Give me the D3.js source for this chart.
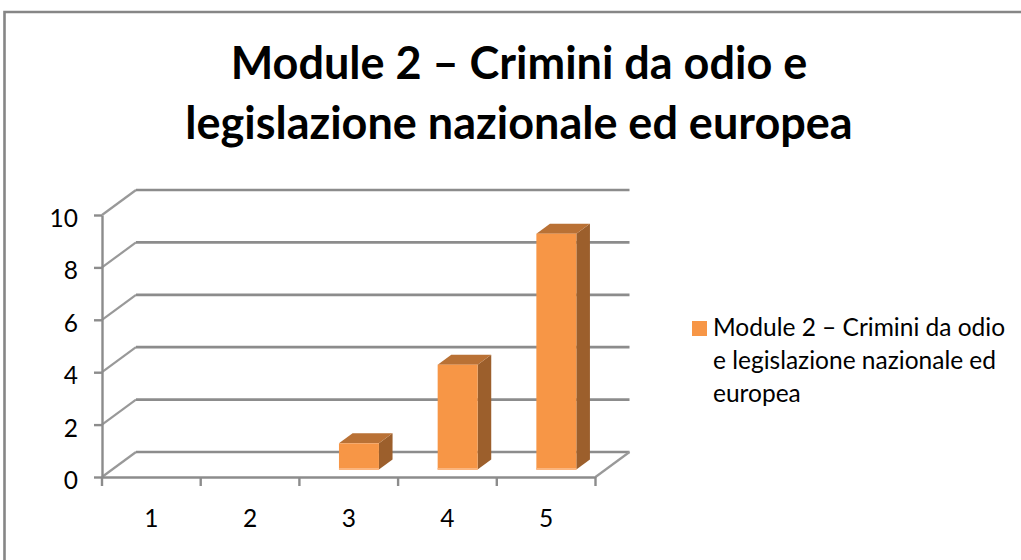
<!DOCTYPE html>
<html>
<head>
<meta charset="utf-8">
<script src="https://cdn.jsdelivr.net/npm/d3@7"></script>
<style>
  html, body { margin: 0; padding: 0; background: #fff; }
  svg { display: block; }
  text { font-family: Lato, "Open Sans", sans-serif; fill: #000; }
</style>
</head>
<body>
<div id="chart"></div>
<script>
const categories = ['1', '2', '3', '4', '5']
const values = [0, 0, 1, 4, 9]
const yTicks = [0, 2, 4, 6, 8, 10]
const titleLines = ['Module 2 – Crimini da odio e', 'legislazione nazionale ed europea']
const legendLines = ['Module 2 – Crimini da odio', 'e legislazione nazionale ed', 'europea']

const width = 1021, height = 560
const gridColor = '#8c8c8c'

const svg = d3.select('#chart').append('svg')
    .attr('width', width)
    .attr('height', height)

// outer frame, only top and left are in the crop
svg.append('path')
    .attr('d', 'M4.5,560V12H1021')
    .attr('fill', 'none')
    .attr('stroke', '#868686')
    .attr('stroke-width', 2.6)

// scales
const x = d3.scaleBand().domain(categories).range([102, 595.5])
const y = d3.scaleLinear().domain([0, 10]).range([477, 215])
// depth goes from the front plane (0) to the back wall (1)
const depthX = d3.scaleLinear().domain([0, 1]).range([0, 34])
const depthY = d3.scaleLinear().domain([0, 1]).range([0, -25])

const barWidth = x.bandwidth() * 0.405
const barLeft = d => x(d) + (x.bandwidth() - barWidth) / 2
const line = d3.line()

// gridlines: side wall + back wall
const grid = svg.append('g')
grid.selectAll('path.side')
    .data(yTicks)
    .enter()
    .append('path')
    .attr('class', 'side')
    .attr('d', d => line([
        [x.range()[0], y(d)],
        [x.range()[0] + depthX(1), y(d) + depthY(1)]
    ]))
    .attr('fill', 'none')
    .attr('stroke', '#999')
    .attr('stroke-width', 2.2)
grid.selectAll('path.back')
    .data(yTicks)
    .enter()
    .append('path')
    .attr('class', 'back')
    .attr('d', d => line([
        [x.range()[0] + depthX(1), y(d) + depthY(1)],
        [x.range()[1] + depthX(1), y(d) + depthY(1)]
    ]))
    .attr('fill', 'none')
    .attr('stroke', gridColor)
    .attr('stroke-width', 2.7)

// floor right edge
svg.append('path')
    .attr('d', line([
        [x.range()[1], y(0)],
        [x.range()[1] + depthX(1), y(0) + depthY(1)]
    ]))
    .attr('fill', 'none')
    .attr('stroke', '#999')
    .attr('stroke-width', 2.2)

// axes
const yAxis = d3.axisLeft(y).tickValues(yTicks).tickSize(8).tickSizeOuter(0).tickPadding(16)
const yG = svg.append('g')
    .attr('transform', `translate(${x.range()[0]},0)`)
    .call(yAxis)
yG.selectAll('path, line').attr('stroke', gridColor).attr('stroke-width', 2.4)
yG.selectAll('text').attr('font-size', 24.5).attr('dy', '0.47em').style('font-family', 'Lato')

const xAxis = d3.axisBottom(x).tickSize(0).tickPadding(33)
const xG = svg.append('g')
    .attr('transform', `translate(0,${y(0)})`)
    .call(xAxis)
xG.select('.domain').attr('stroke', gridColor).attr('stroke-width', 2.4)
xG.selectAll('text').attr('font-size', 24.5).style('font-family', 'Lato')

// x ticks sit on the band edges, not centres
xG.selectAll('line.edge')
    .data(d3.range(categories.length + 1))
    .enter()
    .append('line')
    .attr('class', 'edge')
    .attr('x1', i => x.range()[0] + i * x.step())
    .attr('x2', i => x.range()[0] + i * x.step())
    .attr('y1', 0)
    .attr('y2', 9)
    .attr('stroke', gridColor)
    .attr('stroke-width', 2.4)

// 3d bars
const barData = categories
    .map((c, i) => ({ category: c, value: values[i] }))
    .filter(d => d.value > 0)
const zNear = 0.3, zFar = 0.7
const bars = svg.selectAll('g.bar')
    .data(barData)
    .enter()
    .append('g')
    .attr('class', 'bar')
    .attr('transform', `translate(${depthX(zNear)},${depthY(zNear)})`)

const dx = depthX(zFar - zNear), dy = depthY(zFar - zNear)

bars.append('path') // side
    .attr('d', d => {
        const r = barLeft(d.category) + barWidth
        return line([[r, y(d.value)], [r + dx, y(d.value) + dy], [r + dx, y(0) + dy], [r, y(0)]]) + 'Z'
    })
    .attr('fill', '#9c5f2c')
bars.append('path') // top
    .attr('d', d => {
        const l = barLeft(d.category)
        return line([[l, y(d.value)], [l + dx, y(d.value) + dy], [l + barWidth + dx, y(d.value) + dy], [l + barWidth, y(d.value)]]) + 'Z'
    })
    .attr('fill', '#b97135')
bars.append('rect') // front
    .attr('x', d => barLeft(d.category))
    .attr('y', d => y(d.value))
    .attr('width', barWidth)
    .attr('height', d => y(0) - y(d.value))
    .attr('fill', '#f79646')
bars.append('rect') // light bottom edge of the front face
    .attr('x', d => barLeft(d.category))
    .attr('y', y(0) - 1.5)
    .attr('width', barWidth)
    .attr('height', 2)
    .attr('fill', '#fbb57e')

// title
svg.append('g').selectAll('text')
    .data(titleLines)
    .enter()
    .append('text')
    .attr('x', 519)
    .attr('y', (d, i) => 79 + i * 60)
    .attr('text-anchor', 'middle')
    .attr('font-size', 45)
    .attr('font-weight', 700)
    .text(d => d)

// legend
svg.append('rect')
    .attr('x', 692)
    .attr('y', 321)
    .attr('width', 15)
    .attr('height', 15)
    .attr('fill', '#f79646')
svg.append('g').selectAll('text')
    .data(legendLines)
    .enter()
    .append('text')
    .attr('x', 713)
    .attr('y', (d, i) => 336 + i * 33)
    .attr('font-size', 24.5)
    .text(d => d)
</script>
</body>
</html>
